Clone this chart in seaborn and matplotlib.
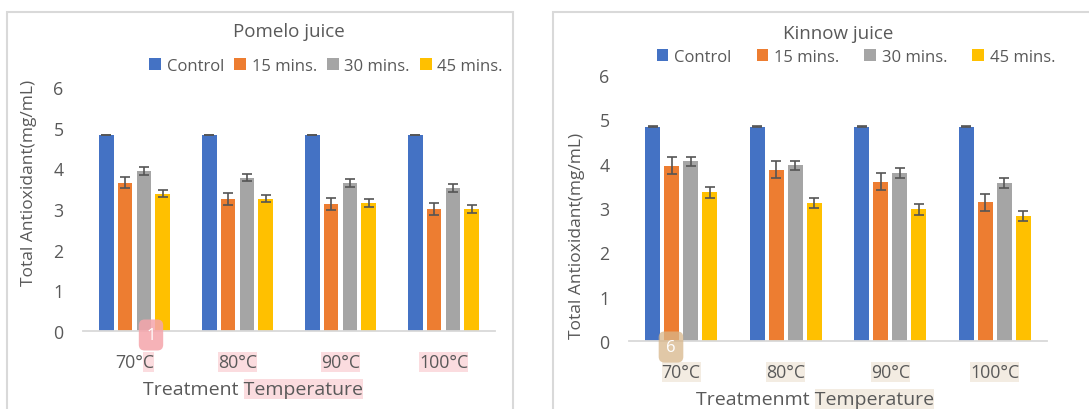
import matplotlib
matplotlib.use("Agg")
import matplotlib.pyplot as plt
from matplotlib.patches import Rectangle, Patch
import pandas as pd
import seaborn as sns

# ---- data -------------------------------------------------------------
temperatures = ["70°C", "80°C", "90°C", "100°C"]
durations = ["Control", "15 mins.", "30 mins.", "45 mins."]

pomelo_control = [4.82, 4.82, 4.82, 4.82]
pomelo_15 = [3.65, 3.24, 3.12, 3.00]
pomelo_30 = [3.94, 3.77, 3.65, 3.52]
pomelo_45 = [3.38, 3.25, 3.14, 3.00]
pomelo_err_control = [0.01, 0.01, 0.01, 0.01]
pomelo_err_15 = [0.14, 0.15, 0.14, 0.15]
pomelo_err_30 = [0.10, 0.09, 0.10, 0.10]
pomelo_err_45 = [0.09, 0.09, 0.10, 0.09]

kinnow_control = [4.83, 4.83, 4.83, 4.83]
kinnow_15 = [3.95, 3.86, 3.59, 3.13]
kinnow_30 = [4.05, 3.96, 3.79, 3.57]
kinnow_45 = [3.35, 3.11, 2.97, 2.82]
kinnow_err_control = [0.01, 0.01, 0.01, 0.01]
kinnow_err_15 = [0.19, 0.19, 0.19, 0.19]
kinnow_err_30 = [0.11, 0.105, 0.105, 0.11]
kinnow_err_45 = [0.12, 0.11, 0.12, 0.11]

colors = ["#4472C4", "#ED7D31", "#A5A5A5", "#FFC000"]
TEXT = "#595959"

sns.set_style("white")
plt.rcParams["font.family"] = ["Open Sans", "DejaVu Sans"]

W, H = 1089, 410
fig = plt.figure(figsize=(W / 100, H / 100), dpi=100)


def long_frame(series):
    rows = []
    for dur, vals in zip(durations, series):
        for t, v in zip(temperatures, vals):
            rows.append({"Temperature": t, "Time": dur, "Value": v})
    return pd.DataFrame(rows)


def panel(rect, title, xlabel, series, errors, title_y, ylab_xy, xlab_xy,
          leg_xy, colspace):
    ax = fig.add_axes(rect)
    df = long_frame(series)
    sns.barplot(data=df, x="Temperature", y="Value", hue="Time",
                order=temperatures, hue_order=durations, palette=colors,
                saturation=1, width=0.73, gap=0.22, errorbar=None,
                linewidth=0, legend=False, ax=ax)
    for cont, vals, errs in zip(ax.containers, series, errors):
        xs = [p.get_x() + p.get_width() / 2 for p in cont.patches]
        ax.errorbar(xs, vals, yerr=errs, fmt="none", ecolor="#555555",
                    elinewidth=1.2, capsize=3.6, capthick=1.2, zorder=5)
    ax.set_ylim(0, 6)
    ax.set_yticks(range(7))
    ax.set_xlim(-0.5, 3.5)
    for s in ("top", "right", "left"):
        ax.spines[s].set_visible(False)
    ax.spines["bottom"].set_color("#d9d9d9")
    ax.spines["bottom"].set_linewidth(1.3)
    ax.tick_params(axis="both", length=0, labelsize=12.8, colors=TEXT)
    ax.tick_params(axis="x", pad=15.5)
    ax.tick_params(axis="y", pad=14)
    ax.set_title(title, fontsize=13.5, color=TEXT, y=title_y, va="center",
                 pad=0)
    ax.set_ylabel("Total Antioxidant(mg/mL)", fontsize=12.5, color=TEXT)
    ax.yaxis.set_label_coords(*ylab_xy)
    ax.set_xlabel(xlabel, fontsize=14, color=TEXT)
    ax.xaxis.set_label_coords(*xlab_xy)
    handles = [Patch(facecolor=c, edgecolor="none") for c in colors]
    ax.legend(handles, durations, ncol=4, frameon=False, loc="center",
              bbox_to_anchor=leg_xy, fontsize=12, labelcolor=TEXT,
              handlelength=0.7, handleheight=0.7, handletextpad=0.35,
              columnspacing=colspace, borderaxespad=0)
    return ax


ax1 = panel([83 / W, 1 - 332 / H, 412 / W, 244 / H], "Pomelo juice",
            "Treatment Temperature",
            [pomelo_control, pomelo_15, pomelo_30, pomelo_45],
            [pomelo_err_control, pomelo_err_15, pomelo_err_30, pomelo_err_45],
            1.23, (-0.112, 0.61), (0.413, -0.202), (0.59, 1.086), 0.6)

ax2 = panel([629 / W, 1 - 342 / H, 418 / W, 266 / H], "Kinnow juice",
            "Treatmenmt Temperature",
            [kinnow_control, kinnow_15, kinnow_30, kinnow_45],
            [kinnow_err_control, kinnow_err_15, kinnow_err_30, kinnow_err_45],
            1.158, (-0.105, 0.40), (0.445, -0.186), (0.543, 1.068), 1.5)

# panel frames
for x0, x1 in ((7, 513), (553, 1100)):
    fig.add_artist(Rectangle((x0 / W, -0.05), (x1 - x0) / W, 1.05 - 13 / H,
                             transform=fig.transFigure, fill=False,
                             edgecolor="#d9d9d9", linewidth=1.5, zorder=-2))

# highlighted text spans
fig.canvas.draw()
renderer = fig.canvas.get_renderer()


def text_width(s, fp):
    t = fig.text(0, 0, s, fontproperties=fp)
    w = t.get_window_extent(renderer).width
    t.remove()
    return w


def highlight(text_obj, tail, color):
    bb = text_obj.get_window_extent(renderer)
    w = text_width(tail, text_obj.get_fontproperties()) if tail else bb.width
    x0 = bb.x1 - w
    fig.add_artist(Rectangle((x0 / W, (bb.y0 - 1) / H), (bb.x1 - x0) / W,
                             (bb.height + 2) / H, transform=fig.transFigure,
                             facecolor=color, edgecolor="none", zorder=-1))


pink = "#fbdcdf"
tan = "#f3ece2"
labels1 = ax1.get_xticklabels()
highlight(labels1[0], "C", pink)
for lab in labels1[1:]:
    highlight(lab, None, pink)
highlight(ax1.xaxis.label, "Temperature", pink)
for lab in ax2.get_xticklabels():
    highlight(lab, None, tan)
highlight(ax2.xaxis.label, "Temperature", tan)

# comment markers
fig.text(151 / W, 1 - 336 / H, "1", ha="center", va="center", color="white",
         fontsize=12, zorder=6,
         bbox=dict(boxstyle="round,pad=0.45,rounding_size=0.35",
                   facecolor="#f5a5ab", edgecolor="none", alpha=0.85))
fig.text(671 / W, 1 - 348 / H, "6", ha="center", va="center", color="white",
         fontsize=12, zorder=6,
         bbox=dict(boxstyle="round,pad=0.45,rounding_size=0.35",
                   facecolor="#d8b68a", edgecolor="none", alpha=0.75))

fig.savefig("out.png", dpi=100, facecolor="white")
